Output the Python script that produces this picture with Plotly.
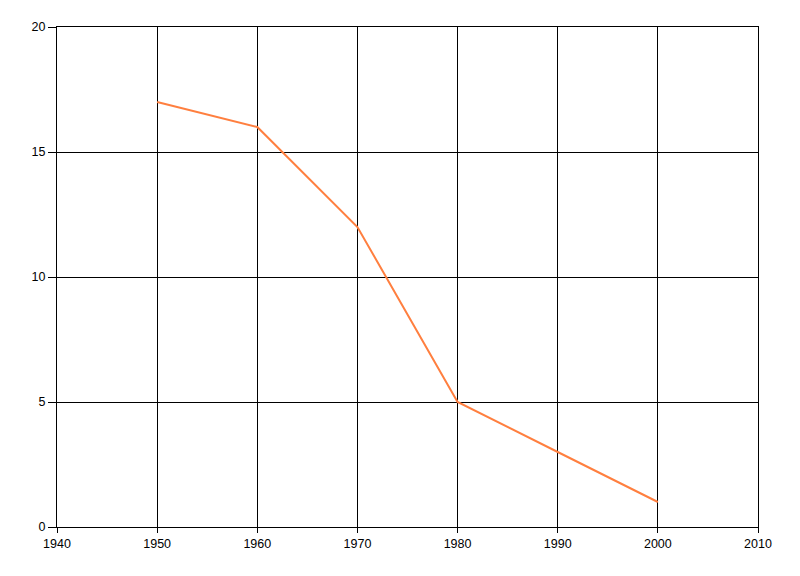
import plotly.graph_objects as go

years = [1950, 1960, 1970, 1980, 1990, 2000]
values = [17, 16, 12, 5, 3, 1]
x_ticks = [1940, 1950, 1960, 1970, 1980, 1990, 2000, 2010]
y_ticks = [0, 5, 10, 15, 20]

fig = go.Figure()
fig.add_trace(go.Scatter(x=years, y=values, mode="lines",
                         line=dict(color="#FF7F3F", width=2), showlegend=False))

fig.update_layout(
    width=800, height=576,
    margin=dict(l=49, r=50, t=19, b=57),
    paper_bgcolor="white", plot_bgcolor="white",
    font=dict(family="Liberation Sans Narrow, Liberation Sans, Arial, sans-serif",
              size=12.5, color="black"),
)
fig.update_xaxes(range=[1940, 2010], tickvals=x_ticks, ticktext=[str(t) for t in x_ticks],
                 showgrid=True, gridcolor="black", gridwidth=1,
                 showline=True, linecolor="black", linewidth=1, mirror=True,
                 ticks="outside", ticklen=5, tickcolor="black", zeroline=False,
                 fixedrange=True)
fig.update_yaxes(range=[0, 20], tickvals=y_ticks,
                 showgrid=True, gridcolor="black", gridwidth=1,
                 showline=True, linecolor="black", linewidth=1, mirror=True,
                 ticks="outside", ticklen=8, tickcolor="black", zeroline=False,
                 fixedrange=True)

fig.write_html("out.html")
